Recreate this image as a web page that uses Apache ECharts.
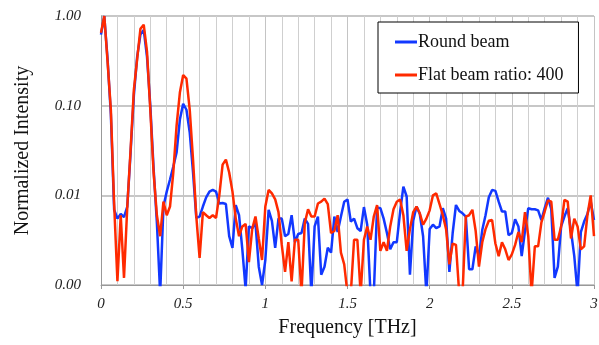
<!DOCTYPE html>
<html>
<head>
<meta charset="utf-8">
<script src="https://cdn.jsdelivr.net/npm/echarts@6/dist/echarts.min.js"></script>
<style>
  html, body { margin: 0; padding: 0; background: #fff; }
  #chart { width: 599px; height: 345px; }
</style>
</head>
<body>
<div id="chart"></div>
<script>
// frequency grid, 0 .. 3 THz in 0.02 steps
const freq = Array.from({ length: 151 }, (_, i) => +(i * 0.02).toFixed(2));

// one row = 0.2 THz
const roundBeam = [
  0.62, 1.0, 0.33, 0.08, 0.0069, 0.0055, 0.0062, 0.0057, 0.0075, 0.03,
  0.13, 0.35, 0.62, 0.7, 0.35, 0.1, 0.02, 0.005, 0.0008, 0.0075,
  0.011, 0.015, 0.021, 0.03, 0.07, 0.105, 0.09, 0.05, 0.018, 0.0056,
  0.0058, 0.0075, 0.0095, 0.011, 0.0115, 0.011, 0.0081, 0.0082, 0.008, 0.0035,
  0.0026, 0.0078, 0.006, 0.0025, 0.0009, 0.0045, 0.0043, 0.0049, 0.0016, 0.001,
  0.0019, 0.0069, 0.0052, 0.0026, 0.0055, 0.0055, 0.0035, 0.0037, 0.006, 0.003,
  0.0037, 0.0038, 0.0055, 0.0048, 0.0008, 0.0045, 0.0058, 0.0013, 0.0016, 0.0026,
  0.0023, 0.0058, 0.0039, 0.0058, 0.0085, 0.009, 0.0051, 0.0055, 0.0043, 0.004,
  0.0074, 0.0047, 0.0008, 0.0008, 0.0073, 0.0072, 0.0055, 0.0038, 0.0025, 0.003,
  0.003, 0.0065, 0.0125, 0.0097, 0.0013, 0.0052, 0.0075, 0.0062, 0.0035, 0.0008,
  0.0042, 0.0047, 0.0043, 0.0045, 0.0072, 0.0055, 0.0014, 0.0038, 0.0078, 0.0067,
  0.0063, 0.0058, 0.0015, 0.0015, 0.0027, 0.0021, 0.0041, 0.006, 0.0095, 0.0115,
  0.0112, 0.0085, 0.0066, 0.0066, 0.0036, 0.0038, 0.0054, 0.0045, 0.0021, 0.004,
  0.0072, 0.007, 0.007, 0.0068, 0.0053, 0.0072, 0.0094, 0.007, 0.0012, 0.0016,
  0.0045, 0.0058, 0.0072, 0.004, 0.0021, 0.0008, 0.0039, 0.0051, 0.0062, 0.0085,
  0.0053
];

const flatBeam = [
  0.65, 1.0, 0.31, 0.09, 0.008, 0.0011, 0.006, 0.0012, 0.0075, 0.032,
  0.15, 0.33, 0.72, 0.8, 0.4, 0.09, 0.018, 0.006, 0.0035, 0.0085,
  0.006, 0.0075, 0.018, 0.06, 0.14, 0.22, 0.2, 0.09, 0.025, 0.0058,
  0.002, 0.0065, 0.006, 0.0056, 0.006, 0.0056, 0.01, 0.022, 0.025, 0.018,
  0.011, 0.0055, 0.0035, 0.0045, 0.0048, 0.0018, 0.0042, 0.0058, 0.0033, 0.0019,
  0.0075, 0.0115, 0.0105, 0.009, 0.0065, 0.0028, 0.0014, 0.003, 0.0011, 0.0032,
  0.0032, 0.0008, 0.0049, 0.007, 0.0058, 0.0058, 0.0081, 0.0085, 0.0092, 0.008,
  0.0038, 0.004, 0.006, 0.0023, 0.0017, 0.0008, 0.0008, 0.0032, 0.0032, 0.0008,
  0.0032, 0.0045, 0.0032, 0.0058, 0.0078, 0.0024, 0.003, 0.0024, 0.0045, 0.007,
  0.0085, 0.009, 0.006, 0.0024, 0.0042, 0.0065, 0.0075, 0.0063, 0.0047, 0.0055,
  0.0068, 0.01, 0.0105, 0.008, 0.006, 0.0042, 0.0017, 0.0029, 0.0028, 0.0008,
  0.0008, 0.0058, 0.006, 0.0069, 0.004, 0.0016, 0.003, 0.0042, 0.0052, 0.0053,
  0.0029, 0.0021, 0.003, 0.0025, 0.0019, 0.0022, 0.0028, 0.0039, 0.003, 0.0065,
  0.0035, 0.0008, 0.0027, 0.0027, 0.005, 0.0066, 0.0088, 0.0085, 0.0032, 0.0032,
  0.0045, 0.0089, 0.0085, 0.0033, 0.0055, 0.0045, 0.0025, 0.0027, 0.006, 0.01,
  0.0035
];

const seriesNames = ['Round beam', 'Flat beam ratio: 400'];
const seriesColors = ['#1238ff', '#ff2a00'];

const serif = 'Liberation Serif, Times New Roman, serif';

const chart = echarts.init(document.getElementById('chart'));
chart.setOption({
  animation: false,
  grid: { left: 101, right: 5, top: 16, bottom: 60, containLabel: false, outerBoundsMode: 'none' },
  legend: {
    data: seriesNames,
    orient: 'vertical',
    left: 378,
    top: 22,
    padding: [11, 15, 9, 17],
    itemGap: 15,
    itemWidth: 22,
    itemHeight: 3,
    icon: 'rect',
    backgroundColor: '#fff',
    borderColor: '#000',
    borderWidth: 1,
    textStyle: { fontFamily: serif, fontSize: 18, color: '#111', padding: [0, 0, 0, -4] }
  },
  xAxis: {
    type: 'value',
    min: 0,
    max: 3,
    interval: 0.5,
    name: 'Frequency [THz]',
    nameLocation: 'middle',
    nameGap: 33,
    nameTextStyle: { fontFamily: serif, fontSize: 20, color: '#111' },
    axisLine: { show: true, lineStyle: { color: '#999' } },
    axisTick: { show: true, length: 4, lineStyle: { color: '#999' } },
    axisLabel: {
      fontFamily: serif, fontSize: 15, fontStyle: 'italic', color: '#222', margin: 12,
      formatter: v => String(+v.toFixed(1))
    },
    splitLine: { show: true, lineStyle: { color: '#c4c4c4' } },
    minorTick: { show: false, splitNumber: 5 },
    minorSplitLine: { show: true, lineStyle: { color: '#cfcfcf' } }
  },
  yAxis: {
    type: 'log',
    logBase: 10,
    min: 0.001,
    max: 1,
    name: 'Normalized Intensity',
    nameLocation: 'middle',
    nameGap: 68,
    nameTextStyle: { fontFamily: serif, fontSize: 20, color: '#111' },
    axisLine: { show: true, lineStyle: { color: '#999' } },
    axisTick: { show: false },
    axisLabel: {
      fontFamily: serif, fontSize: 15, fontStyle: 'italic', color: '#222', margin: 20,
      formatter: v => v.toFixed(2)
    },
    splitLine: { show: true, lineStyle: { color: '#b4b4b4', width: 1.5 } }
  },
  series: [
    {
      name: seriesNames[0],
      type: 'line',
      data: freq.map((f, i) => [f, roundBeam[i]]),
      symbol: 'none',
      clip: true,
      itemStyle: { color: seriesColors[0] },
      lineStyle: { color: seriesColors[0], width: 2.5 }
    },
    {
      name: seriesNames[1],
      type: 'line',
      data: freq.map((f, i) => [f, flatBeam[i]]),
      symbol: 'none',
      clip: true,
      itemStyle: { color: seriesColors[1] },
      lineStyle: { color: seriesColors[1], width: 2.5 }
    }
  ]
});
</script>
</body>
</html>
